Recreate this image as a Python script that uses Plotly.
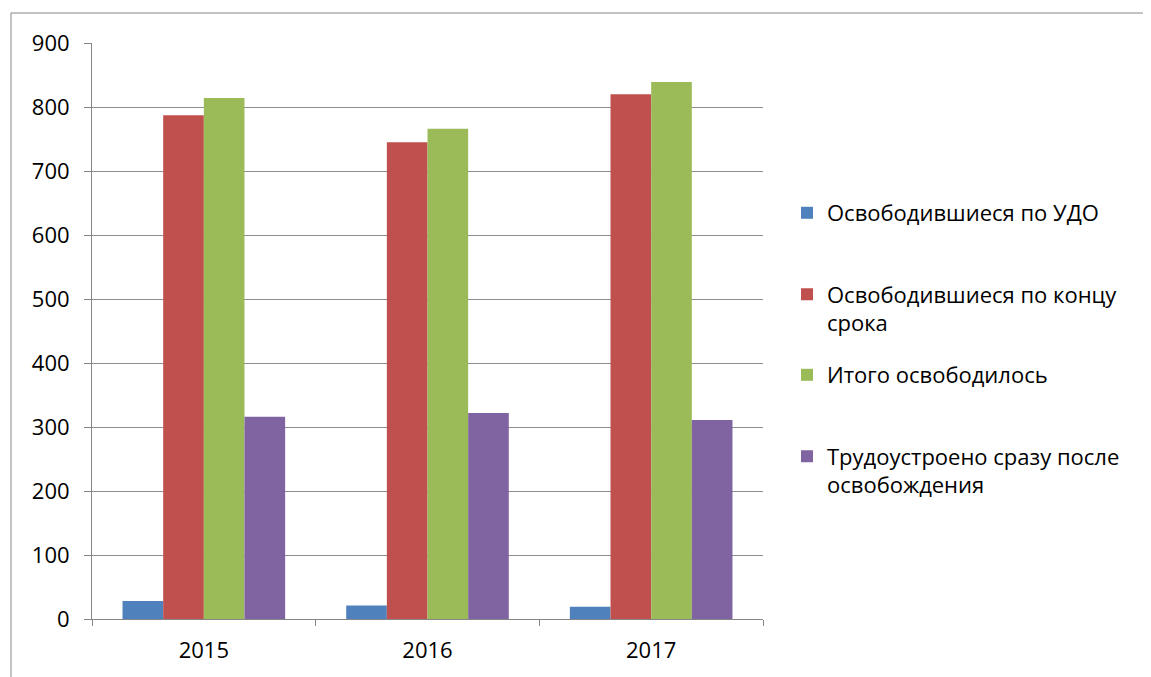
import plotly.graph_objects as go

years = ["2015", "2016", "2017"]
series_names = [
    "Освободившиеся по УДО",
    "Освободившиеся по концу<br>срока",
    "Итого освободилось",
    "Трудоустроено сразу после<br>освобождения",
]
udo = [28, 21, 19]
end_term = [787, 745, 820]
total = [814, 766, 839]
employed = [316, 322, 311]
colors = ["#4F81BD", "#C0504D", "#9BBB59", "#8064A2"]
y_ticks = [0, 100, 200, 300, 400, 500, 600, 700, 800, 900]

OFF = 8  # page body margin
W, H = 1151 - OFF, 677 - OFF
L, R, T, B = 92 - OFF, 763 - OFF, 43 - OFF, 619 - OFF

def px_x(x):
    return (x - OFF - L) / (R - L)

def px_y(y):
    return (B - (y - OFF)) / (B - T)

FONT = "Open Sans"
FS = 22
fig = go.Figure()
values = [udo, end_term, total, employed]
legend_ids = ["legend", "legend2", "legend3", "legend4"]
for name, vals, col, lg in zip(series_names, values, colors, legend_ids):
    fig.add_trace(go.Bar(x=years, y=vals, name=name, marker_color=col,
                         marker_line_width=0, legend=lg, showlegend=True))

legend_centers = [213, 309, 375, 471]
common = dict(bgcolor="rgba(0,0,0,0)", font=dict(family=FONT, size=FS, color="#000"),
              xanchor="left", yanchor="middle", itemclick=False, itemdoubleclick=False,
              valign="top")
lx = px_x(787)
fig.update_layout(
    width=W, height=H, showlegend=True,
    margin=dict(l=L, r=W - R, t=T, b=H - B, autoexpand=False),
    paper_bgcolor="white", plot_bgcolor="white",
    barmode="group", bargap=0.273, bargroupgap=0,
    font=dict(family=FONT, size=FS, color="#000"),
    legend=dict(x=lx, y=px_y(legend_centers[0]), **common),
    legend2=dict(x=lx, y=px_y(legend_centers[1]), **common),
    legend3=dict(x=lx, y=px_y(legend_centers[2]), **common),
    legend4=dict(x=lx, y=px_y(legend_centers[3]), **common),
    xaxis=dict(type="category", showgrid=False, showline=True, linecolor="#868686",
               linewidth=1, ticks="outside", tickson="boundaries", ticklen=6,
               tickcolor="#868686", ticklabelstandoff=12,
               tickfont=dict(family=FONT, size=FS, color="#000")),
    yaxis=dict(range=[0, 900], tickvals=y_ticks, showgrid=True, gridcolor="#8C8C8C",
               gridwidth=1, showline=True, linecolor="#868686", linewidth=1,
               ticks="outside", ticklen=7, tickcolor="#868686", zeroline=False,
               ticklabelstandoff=10,
               tickfont=dict(family=FONT, size=FS, color="#000")),
    shapes=[dict(type="rect", xref="paper", yref="paper",
                 x0=px_x(11), x1=px_x(1300), y0=px_y(800), y1=px_y(13),
                 line=dict(color="#868686", width=1), fillcolor="rgba(0,0,0,0)",
                 layer="below")],
)
fig.write_html("out.html")
